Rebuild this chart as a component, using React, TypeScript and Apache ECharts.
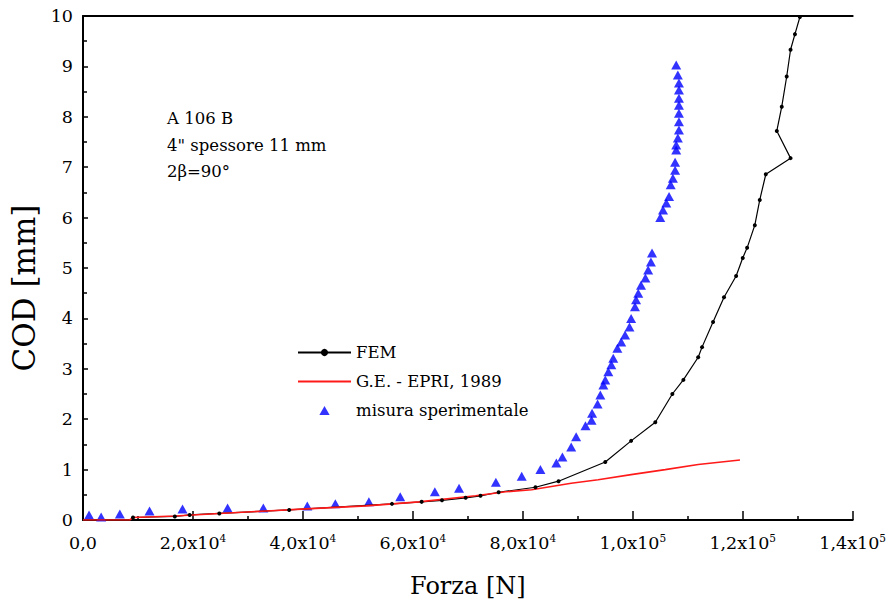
import React, { useEffect, useRef } from "react";
import * as echarts from "echarts";

// FEM curve: force [N] and crack opening displacement [mm]
const femForce = [
  9100, 16700, 19400, 24800, 37500, 56200, 61600, 65300, 69600, 72300, 75600,
  82300, 86500, 95000, 99700, 104100, 107200, 109200, 111900, 112600, 114600,
  116600, 118800, 120000, 120800, 122200, 123100, 124200, 128700, 126200,
  127100, 128000, 128700, 129500, 130400,
];
const femCod = [
  0.05, 0.07, 0.1, 0.13, 0.2, 0.32, 0.36, 0.39, 0.44, 0.48, 0.55, 0.65, 0.77,
  1.15, 1.57, 1.94, 2.5, 2.78, 3.23, 3.43, 3.93, 4.42, 4.84, 5.2, 5.4, 5.85,
  6.35, 6.86, 7.18, 7.72, 8.2, 8.8, 9.33, 9.64, 9.98,
];

// G.E. - EPRI 1989 estimate
const epriForce = [
  0, 8500, 9100, 16700, 24800, 33400, 40600, 51500, 61100, 71400, 76900,
  81600, 88800, 93700, 99700, 105900, 111900, 119500,
];
const epriCod = [
  0, 0, 0.05, 0.08, 0.13, 0.18, 0.22, 0.28, 0.36, 0.48, 0.56, 0.6, 0.73, 0.8,
  0.9, 1.0, 1.1, 1.19,
];

// experimental measurements
const expForce = [
  1100, 3300, 6700, 12100, 18100, 26300, 32800, 40800, 45900, 52000, 57700,
  64000, 68400, 75100, 79800, 83200, 86100, 87200, 88800, 89700, 91400, 92500,
  92600, 93600, 94100, 94650, 95000, 95550, 96100, 96450, 97200, 97900, 98600,
  99400, 99700, 100400, 100600, 101000, 101500, 102300, 102800, 103300,
  103500, 105000, 105500, 106100, 106600, 106900, 107300, 107700, 107700,
  107900, 107900, 108200, 108400, 108400, 108400, 108400, 108400, 108400,
  108400, 108200, 107900,
];
const expCod = [
  0.1, 0.06, 0.12, 0.18, 0.22, 0.24, 0.24, 0.28, 0.32, 0.36, 0.46, 0.56, 0.63,
  0.75, 0.87, 1.0, 1.13, 1.25, 1.45, 1.65, 1.87, 1.98, 2.12, 2.3, 2.48, 2.68,
  2.78, 2.94, 3.08, 3.21, 3.41, 3.53, 3.67, 3.83, 4.0, 4.23, 4.37, 4.5, 4.66,
  4.8, 4.96, 5.12, 5.3, 6.0, 6.15, 6.29, 6.42, 6.65, 6.78, 6.94, 7.1, 7.34,
  7.44, 7.58, 7.74, 7.9, 8.07, 8.23, 8.37, 8.53, 8.67, 8.83, 9.03,
];

const seriesNames = ["FEM", "G.E. - EPRI, 1989", "misura sperimentale"];
const noteLines = ["A 106 B", "4\" spessore 11 mm", "2β=90°"];

const zip = (xs: number[], ys: number[]) => xs.map((x, i) => [x, ys[i]]);

const FONT = "'DejaVu Serif', 'Liberation Serif', serif";

function forceLabel(v: number): string {
  if (v === 0) return "{m|0,0}";
  const exp = Math.floor(Math.log10(v) + 1e-9);
  const mant = (v / Math.pow(10, exp)).toFixed(1).replace(".", ",");
  return `{m|${mant}x10}{e|${exp}}`;
}

export default function App() {
  const ref = useRef<HTMLDivElement>(null);

  useEffect(() => {
    if (!ref.current) return;
    const chart = echarts.init(ref.current, undefined, { renderer: "svg" });
    chart.setOption({
      animation: false,
      backgroundColor: "#ffffff",
      textStyle: { fontFamily: FONT, color: "#000" },
      grid: { left: 83, right: 35, top: 16, bottom: 86 },
      legend: {
        orient: "vertical",
        left: 297,
        top: 343,
        padding: 0,
        itemWidth: 53,
        itemHeight: 9,
        itemGap: 10,
        symbolKeepAspect: true,
        data: [
          { name: seriesNames[0] },
          { name: seriesNames[1], icon: "path://M0 0H53V2H0Z" },
          { name: seriesNames[2], icon: "path://M4 0L8 7H0Z" },
        ],
        textStyle: {
          fontFamily: FONT,
          fontSize: 16.5,
          color: "#000",
          lineHeight: 19,
        },
      },
      xAxis: [
        {
          type: "value",
          min: 0,
          max: 140000,
          interval: 20000,
          position: "bottom",
          name: "Forza [N]",
          nameLocation: "middle",
          nameGap: 54,
          nameTextStyle: { fontFamily: FONT, fontSize: 24, color: "#000" },
          axisLine: { show: true, lineStyle: { color: "#000", width: 2 } },
          axisTick: { show: true, inside: true, length: 9, lineStyle: { color: "#000", width: 1.5 } },
          minorTick: { show: true, splitNumber: 2, length: 4, lineStyle: { color: "#000", width: 1.5 } },
          splitLine: { show: false },
          axisLabel: {
            margin: 12,
            formatter: forceLabel,
            rich: {
              m: { fontFamily: FONT, fontSize: 17.5, color: "#000", lineHeight: 21 },
              e: { fontFamily: FONT, fontSize: 10.5, color: "#000", verticalAlign: "top", lineHeight: 12 },
            },
          },
        },
        {
          type: "value",
          min: 0,
          max: 140000,
          position: "top",
          axisLine: { show: true, onZero: false, lineStyle: { color: "#000", width: 2 } },
          axisTick: { show: false },
          axisLabel: { show: false },
          splitLine: { show: false },
        },
      ],
      yAxis: {
        type: "value",
        min: 0,
        max: 10,
        interval: 1,
        name: "COD [mm]",
        nameLocation: "middle",
        nameGap: 41,
        nameTextStyle: { fontFamily: FONT, fontSize: 31, color: "#000", padding: [0, 40, 0, 0] },
        axisLine: { show: true, lineStyle: { color: "#000", width: 2 } },
        axisTick: { show: true, inside: true, length: 5, lineStyle: { color: "#000", width: 1.5 } },
        minorTick: { show: true, splitNumber: 2, length: 4, lineStyle: { color: "#000", width: 1.5 } },
        splitLine: { show: false },
        axisLabel: { fontFamily: FONT, fontSize: 17.5, color: "#000", margin: 10 },
      },
      graphic: noteLines.map((t, i) => ({
        type: "text",
        left: 167,
        top: 110 + i * 26.5,
        style: { text: t, fontFamily: FONT, fontSize: 16.5, fill: "#000" },
      })),
      series: [
        {
          name: seriesNames[0],
          type: "line",
          data: zip(femForce, femCod),
          symbol: "circle",
          symbolSize: 4,
          itemStyle: { color: "#000" },
          lineStyle: { color: "#000", width: 1.2 },
        },
        {
          name: seriesNames[1],
          type: "line",
          data: zip(epriForce, epriCod),
          showSymbol: false,
          symbol: "none",
          itemStyle: { color: "#ff1a1a" },
          lineStyle: { color: "#ff1a1a", width: 1.6 },
        },
        {
          name: seriesNames[2],
          type: "scatter",
          data: zip(expForce, expCod),
          symbol: "triangle",
          symbolSize: [10, 9],
          itemStyle: { color: "#0000ff" },
        },
      ],
    });
    return () => chart.dispose();
  }, []);

  return (
    <div
      ref={ref}
      style={{ position: "fixed", left: 0, top: 0, width: 889, height: 606, background: "#fff" }}
    />
  );
}
